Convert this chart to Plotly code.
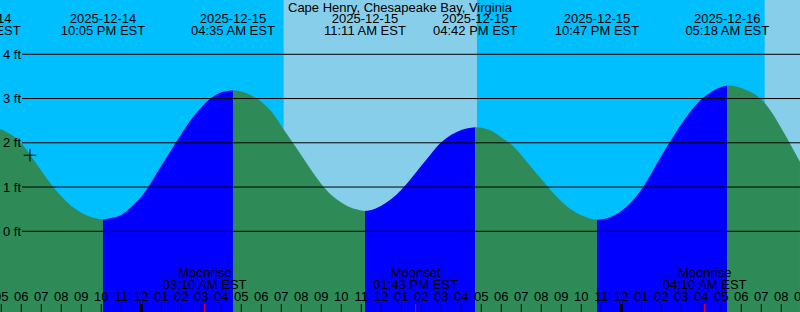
import plotly.graph_objects as go
import pandas as pd

TITLE = "Cape Henry, Chesapeake Bay, Virginia"

# Tide level readings (ft), every half hour plus the extremes
tide_times = [
    # falling to the 22:05 low
    "2025-12-14 16:56", "2025-12-14 17:00", "2025-12-14 17:30", "2025-12-14 18:00",
    "2025-12-14 18:30", "2025-12-14 19:00", "2025-12-14 19:30", "2025-12-14 20:00",
    "2025-12-14 20:30", "2025-12-14 21:00", "2025-12-14 21:30", "2025-12-14 22:05",
    # rising to the 04:35 high
    "2025-12-14 22:30", "2025-12-14 23:00", "2025-12-14 23:30", "2025-12-15 00:00",
    "2025-12-15 00:30", "2025-12-15 01:00", "2025-12-15 01:30", "2025-12-15 02:00",
    "2025-12-15 02:30", "2025-12-15 03:00", "2025-12-15 03:30", "2025-12-15 04:00",
    "2025-12-15 04:35",
    # falling to the 11:11 low
    "2025-12-15 05:00", "2025-12-15 05:30", "2025-12-15 06:00", "2025-12-15 06:30",
    "2025-12-15 07:00", "2025-12-15 07:30", "2025-12-15 08:00", "2025-12-15 08:30",
    "2025-12-15 09:00", "2025-12-15 09:30", "2025-12-15 10:00", "2025-12-15 10:30",
    "2025-12-15 11:00", "2025-12-15 11:11",
    # rising to the 16:42 high
    "2025-12-15 11:30", "2025-12-15 12:00", "2025-12-15 12:30", "2025-12-15 13:00",
    "2025-12-15 13:30", "2025-12-15 14:00", "2025-12-15 14:30", "2025-12-15 15:00",
    "2025-12-15 15:30", "2025-12-15 16:00", "2025-12-15 16:30", "2025-12-15 16:42",
    # falling to the 22:47 low
    "2025-12-15 17:00", "2025-12-15 17:30", "2025-12-15 18:00", "2025-12-15 18:30",
    "2025-12-15 19:00", "2025-12-15 19:30", "2025-12-15 20:00", "2025-12-15 20:30",
    "2025-12-15 21:00", "2025-12-15 21:30", "2025-12-15 22:00", "2025-12-15 22:30",
    "2025-12-15 22:47",
    # rising to the 05:18 high
    "2025-12-15 23:00", "2025-12-15 23:30", "2025-12-16 00:00", "2025-12-16 00:30",
    "2025-12-16 01:00", "2025-12-16 01:30", "2025-12-16 02:00", "2025-12-16 02:30",
    "2025-12-16 03:00", "2025-12-16 03:30", "2025-12-16 04:00", "2025-12-16 04:30",
    "2025-12-16 05:00", "2025-12-16 05:18",
    # falling
    "2025-12-16 05:30", "2025-12-16 06:00", "2025-12-16 06:30", "2025-12-16 07:00",
    "2025-12-16 07:30", "2025-12-16 08:00", "2025-12-16 08:30", "2025-12-16 08:56",
]
tide_levels = [
    2.31, 2.30, 2.18, 1.99, 1.69, 1.37, 1.06, 0.79, 0.57, 0.42, 0.32, 0.27,
    0.30, 0.37, 0.55, 0.78, 1.11, 1.48, 1.84, 2.20, 2.53, 2.80, 3.01, 3.14, 3.19,
    3.16, 3.07, 2.93, 2.71, 2.38, 2.05, 1.72, 1.38, 1.07, 0.82, 0.65, 0.53, 0.47, 0.46,
    0.48, 0.58, 0.73, 0.94, 1.20, 1.48, 1.76, 2.01, 2.18, 2.29, 2.34, 2.35,
    2.34, 2.27, 2.12, 1.96, 1.72, 1.45, 1.18, 0.91, 0.68, 0.49, 0.36, 0.28, 0.26,
    0.27, 0.33, 0.46, 0.66, 0.94, 1.30, 1.70, 2.07, 2.42, 2.73, 2.98, 3.15, 3.26, 3.29,
    3.29, 3.24, 3.14, 2.98, 2.70, 2.33, 1.93, 1.57,
]

# High / low tide events
event_times = [
    "2025-12-14 15:51", "2025-12-14 22:05", "2025-12-15 04:35", "2025-12-15 11:11",
    "2025-12-15 16:42", "2025-12-15 22:47", "2025-12-16 05:18",
]

# Moon events
moon_times = ["2025-12-15 03:10", "2025-12-15 13:43", "2025-12-16 04:10"]
moon_names = ["Moonrise", "Moonset", "Moonrise"]

# Daylight
sunrise_times = ["2025-12-15 07:07", "2025-12-16 07:10"]
sunset_times = ["2025-12-15 16:47", "2025-12-16 16:48"]

# Current time marker
now_time = "2025-12-14 18:26"
now_level = 1.72

# Hour ticks
hour_ticks = pd.date_range("2025-12-14 17:00", "2025-12-16 09:00", freq="h")
level_ticks = [0, 1, 2, 3, 4]

X_RANGE = ["2025-12-14 16:56:06", "2025-12-16 08:56:06"]
Y_RANGE = [-1.824, 5.227]
FLOOR = -3

NIGHT = "#00BFFF"
DAY = "#87CEEB"
EBB = "#2E8B57"
FLOOD = "#0000FF"
FONT = "Liberation Sans, Arial, sans-serif"
FS = 13

fig = go.Figure()

# ---- tide fills split at extremes ----
t = pd.to_datetime(pd.Series(tide_times))
lv = pd.Series(tide_levels)
ev = [pd.Timestamp(e) for e in event_times]
bounds = [t.iloc[0]] + [e for e in ev if t.iloc[0] < e < t.iloc[-1]] + [t.iloc[-1]]
for a, b in zip(bounds[:-1], bounds[1:]):
    m = (t >= a) & (t <= b)
    st, sl = t[m], lv[m]
    color = EBB if sl.iloc[-1] < sl.iloc[0] else FLOOD
    fig.add_trace(go.Scatter(x=[st.iloc[0], st.iloc[-1]], y=[FLOOR, FLOOR], mode="lines",
                             line=dict(width=0), hoverinfo="skip", showlegend=False))
    fig.add_trace(go.Scatter(x=st, y=sl, mode="lines", fill="tonexty", fillcolor=color,
                             line=dict(width=0, shape="spline", color=color),
                             hoverinfo="skip", showlegend=False))

# current marker
fig.add_trace(go.Scatter(x=[now_time], y=[now_level], mode="markers",
                         marker=dict(symbol="cross-thin", size=9,
                                     line=dict(width=1, color="black")),
                         showlegend=False, hoverinfo="skip"))

txt = dict(family=FONT, size=FS, color="black")

# ---- top event labels (pixel y axis y2) ----
evs = pd.to_datetime(pd.Series(event_times))
fig.add_trace(go.Scatter(x=evs, y=[19.5] * len(evs), yaxis="y2", mode="text",
                         text=evs.dt.strftime("%Y-%m-%d"), textposition="middle center",
                         textfont=txt, showlegend=False, hoverinfo="skip"))
fig.add_trace(go.Scatter(x=evs, y=[31.5] * len(evs), yaxis="y2", mode="text",
                         text=evs.dt.strftime("%I:%M %p EST"), textposition="middle center",
                         textfont=txt, showlegend=False, hoverinfo="skip"))

# ---- moon labels ----
mts = pd.to_datetime(pd.Series(moon_times))
fig.add_trace(go.Scatter(x=mts, y=[273.5] * len(mts), yaxis="y2", mode="text",
                         text=moon_names, textposition="middle center",
                         textfont=txt, showlegend=False, hoverinfo="skip"))
fig.add_trace(go.Scatter(x=mts, y=[285.5] * len(mts), yaxis="y2", mode="text",
                         text=mts.dt.strftime("%I:%M %p EST"), textposition="middle center",
                         textfont=txt, showlegend=False, hoverinfo="skip"))

# ---- hour labels ----
fig.add_trace(go.Scatter(x=hour_ticks, y=[297.5] * len(hour_ticks), yaxis="y2", mode="text",
                         text=hour_ticks.strftime("%I"), textposition="middle center",
                         textfont=txt, showlegend=False, hoverinfo="skip"))

# ---- tick marks ----
def tick_xy(times, y0, y1):
    xs, ys = [], []
    for tt in times:
        xs += [tt, tt, None]
        ys += [y0, y1, None]
    return xs, ys

xs, ys = tick_xy(hour_ticks, 304, 312)
fig.add_trace(go.Scatter(x=xs, y=ys, yaxis="y2", mode="lines",
                         line=dict(color="black", width=1),
                         showlegend=False, hoverinfo="skip"))
midnights = [h for h in hour_ticks if h.hour == 0]
xs, ys = tick_xy(midnights, 304, 312)
fig.add_trace(go.Scatter(x=xs, y=ys, yaxis="y2", mode="lines",
                         line=dict(color="black", width=3),
                         showlegend=False, hoverinfo="skip"))
xs, ys = tick_xy(mts, 304, 312)
fig.add_trace(go.Scatter(x=xs, y=ys, yaxis="y2", mode="lines",
                         line=dict(color="red", width=1),
                         showlegend=False, hoverinfo="skip"))

# ---- shapes: daylight and level lines ----
shapes = []
for sr, ss in zip(sunrise_times, sunset_times):
    shapes.append(dict(type="rect", xref="x", yref="paper", x0=sr, x1=ss, y0=0, y1=1,
                       fillcolor=DAY, line=dict(width=0), layer="below"))
for k in level_ticks:
    shapes.append(dict(type="line", xref="paper", yref="y", x0=22 / 800, x1=1, y0=k, y1=k,
                       line=dict(color="black", width=1), layer="above"))

annotations = [dict(text=f"{k} ft", xref="paper", yref="y", x=0, y=k, xanchor="left",
                    yanchor="middle", xshift=1, showarrow=False, font=txt)
               for k in level_ticks]
annotations.append(dict(text=TITLE, xref="paper", yref="paper", x=0.5, y=1 - 7.5 / 312,
                        xanchor="center", yanchor="middle", showarrow=False, font=txt))

fig.update_layout(
    width=800, height=312, margin=dict(l=0, r=0, t=0, b=0),
    paper_bgcolor=NIGHT, plot_bgcolor=NIGHT,
    showlegend=False,
    xaxis=dict(range=X_RANGE, type="date", visible=False, showgrid=False, zeroline=False),
    yaxis=dict(range=Y_RANGE, visible=False, showgrid=False, zeroline=False),
    yaxis2=dict(range=[312, 0], overlaying="y", visible=False, showgrid=False, zeroline=False),
    shapes=shapes, annotations=annotations,
)

fig.write_html("out.html")
